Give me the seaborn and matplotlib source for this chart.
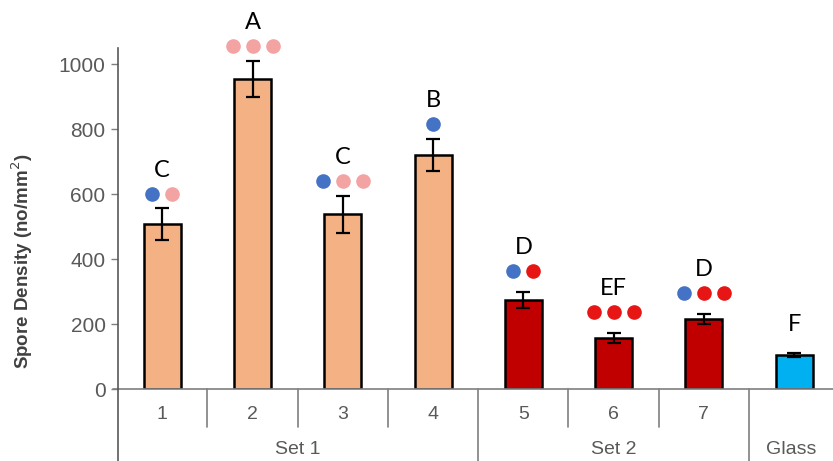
import numpy as np
import matplotlib
matplotlib.use("Agg")
import matplotlib.pyplot as plt
import matplotlib.transforms as mtransforms
import seaborn as sns

# values
categories = ["1", "2", "3", "4", "5", "6", "7", "Glass"]
density = [508, 954, 538, 720, 274, 157, 215, 105]
errors = [48, 56, 57, 50, 25, 15, 15, 7]
letters = ["C", "A", "C", "B", "D", "EF", "D", "F"]
groups = ["Set 1", "Set 1", "Set 1", "Set 1", "Set 2", "Set 2", "Set 2", "Glass"]
# dot markers above bars: b = blue, p = pink, r = red
dots = ["bp", "ppp", "bpp", "b", "br", "rrr", "brr", ""]

bar_colors = ["#F4B183"] * 4 + ["#C00000"] * 3 + ["#00B0F0"]
dot_colors = {"b": "#4472C4", "p": "#F4A3A3", "r": "#E81515"}

sns.set_style("white")
plt.rcParams["font.family"] = ["Liberation Sans", "DejaVu Sans"]

fig = plt.figure(figsize=(8.33, 4.61), dpi=100)
ax = fig.add_axes([118 / 833, 72 / 461, 1 - 118 / 833, 341 / 461])

x = np.arange(len(categories))
sns.barplot(x=categories, y=density, hue=categories, palette=bar_colors,
            legend=False, width=0.41, edgecolor="black", linewidth=1.8,
            saturation=1, ax=ax)
ax.errorbar(x, density, yerr=errors, fmt="none", ecolor="black",
            elinewidth=1.6, capsize=5, capthick=1.6)

ax.set_ylim(0, 1050)
ax.set_xlim(-0.49, 7.43)
ax.set_yticks(range(0, 1001, 200))
ax.tick_params(axis="y", left=True, length=5, width=1, color="#7f7f7f",
               labelsize=15, labelcolor="#595959", pad=4)
ax.tick_params(axis="x", bottom=False, labelbottom=False)

for s in ["top", "right", "bottom"]:
    ax.spines[s].set_visible(False)
ax.spines["left"].set_color("#595959")
ax.spines["left"].set_linewidth(1.2)

ax.set_ylabel("Spore Density (no/mm$^2$)", fontsize=13.5, fontweight="bold",
              color="#404040")
ax.yaxis.set_label_coords(-0.116, 0.375)

# axis line and category separators below the plot
trans = mtransforms.blended_transform_factory(ax.transData, ax.transAxes)
ax.plot([-0.55, 7.43], [0, 0], transform=trans, color="#7f7f7f", lw=1.2,
        clip_on=False)
ax.plot([-0.49, -0.49], [0, -0.25], transform=trans, color="#595959", lw=1.2,
        clip_on=False)
for i in range(len(categories) - 1):
    long = groups[i] != groups[i + 1]
    ax.plot([i + 0.5, i + 0.5], [0, -0.25 if long else -0.112],
            transform=trans, color="#7f7f7f", lw=1.2, clip_on=False)
for i, c in enumerate(categories):
    if groups[i] != "Glass":
        ax.text(i, -0.075, c, transform=trans, ha="center", va="center",
                fontsize=14, color="#595959")

# group labels
seen = []
for g in groups:
    if g in seen:
        continue
    seen.append(g)
    idx = [i for i, gg in enumerate(groups) if gg == g]
    lo = idx[0] - 0.5
    hi = min(idx[-1] + 0.5, 7.43)
    ax.text((lo + hi) / 2, -0.178, g, transform=trans, ha="center",
            va="center", fontsize=14, color="#595959")

# dots and significance letters
for i in range(len(categories)):
    top = density[i] + errors[i]
    d = dots[i]
    n = len(d)
    dy = 10.5 if groups[i] == "Set 1" else 15
    for k, ch in enumerate(d):
        dx = (k - (n - 1) / 2) * 14.4
        ax.plot([i], [top], marker="o", markersize=9.5, color=dot_colors[ch],
                linestyle="none", clip_on=False,
                transform=ax.transData + mtransforms.ScaledTranslation(
                    dx / 72, dy / 72, fig.dpi_scale_trans))
    ly = dy + 17 if n else 20
    ax.annotate(letters[i], xy=(i, top), xytext=(0, ly),
                textcoords="offset points", ha="center", va="center",
                fontsize=17, color="black", family=["Lato", "DejaVu Sans"],
                annotation_clip=False)

fig.savefig("out.png", dpi=100)
